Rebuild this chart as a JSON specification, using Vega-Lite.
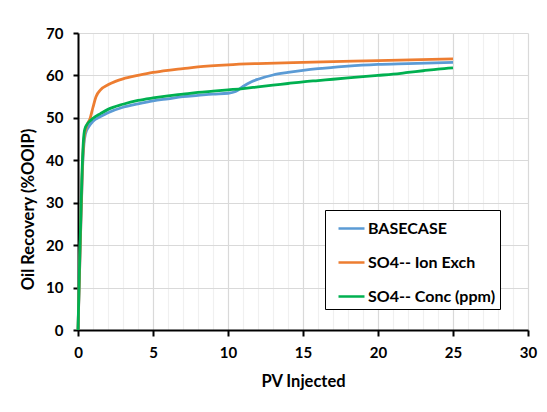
{
  "$schema": "https://vega.github.io/schema/vega-lite/v6.json",
  "autosize": "none",
  "width": 450,
  "height": 297,
  "padding": {"left": 78, "top": 33, "right": 19, "bottom": 82},
  "background": "white",
  "config": {
    "view": {"stroke": null},
    "font": "Lato"
  },
  "data": {
    "values": [
      {"s": "BASECASE", "pv": 0, "r": 0},
      {"s": "BASECASE", "pv": 0.15, "r": 20},
      {"s": "BASECASE", "pv": 0.3, "r": 38},
      {"s": "BASECASE", "pv": 0.4, "r": 44},
      {"s": "BASECASE", "pv": 0.5, "r": 46.3},
      {"s": "BASECASE", "pv": 0.7, "r": 47.8},
      {"s": "BASECASE", "pv": 1, "r": 49.2},
      {"s": "BASECASE", "pv": 1.5, "r": 50.3},
      {"s": "BASECASE", "pv": 2, "r": 51.2},
      {"s": "BASECASE", "pv": 3, "r": 52.5},
      {"s": "BASECASE", "pv": 4, "r": 53.3},
      {"s": "BASECASE", "pv": 5, "r": 54},
      {"s": "BASECASE", "pv": 6, "r": 54.5},
      {"s": "BASECASE", "pv": 7, "r": 55},
      {"s": "BASECASE", "pv": 8, "r": 55.3},
      {"s": "BASECASE", "pv": 9, "r": 55.6},
      {"s": "BASECASE", "pv": 10, "r": 55.8},
      {"s": "BASECASE", "pv": 10.5, "r": 56.2},
      {"s": "BASECASE", "pv": 11, "r": 57.4},
      {"s": "BASECASE", "pv": 11.5, "r": 58.4},
      {"s": "BASECASE", "pv": 12, "r": 59.1},
      {"s": "BASECASE", "pv": 13, "r": 60.1},
      {"s": "BASECASE", "pv": 14, "r": 60.7},
      {"s": "BASECASE", "pv": 15, "r": 61.2},
      {"s": "BASECASE", "pv": 16, "r": 61.6},
      {"s": "BASECASE", "pv": 17, "r": 61.9},
      {"s": "BASECASE", "pv": 18, "r": 62.2},
      {"s": "BASECASE", "pv": 20, "r": 62.6},
      {"s": "BASECASE", "pv": 22, "r": 62.8},
      {"s": "BASECASE", "pv": 25, "r": 63.1},
      {"s": "SO4-- Ion Exch", "pv": 0, "r": 0},
      {"s": "SO4-- Ion Exch", "pv": 0.15, "r": 20},
      {"s": "SO4-- Ion Exch", "pv": 0.3, "r": 39},
      {"s": "SO4-- Ion Exch", "pv": 0.4, "r": 45},
      {"s": "SO4-- Ion Exch", "pv": 0.55, "r": 47.8},
      {"s": "SO4-- Ion Exch", "pv": 0.8, "r": 49.8},
      {"s": "SO4-- Ion Exch", "pv": 1, "r": 52.5},
      {"s": "SO4-- Ion Exch", "pv": 1.2, "r": 55},
      {"s": "SO4-- Ion Exch", "pv": 1.5, "r": 56.6},
      {"s": "SO4-- Ion Exch", "pv": 2, "r": 57.8},
      {"s": "SO4-- Ion Exch", "pv": 2.5, "r": 58.6},
      {"s": "SO4-- Ion Exch", "pv": 3, "r": 59.2},
      {"s": "SO4-- Ion Exch", "pv": 4, "r": 60},
      {"s": "SO4-- Ion Exch", "pv": 5, "r": 60.7},
      {"s": "SO4-- Ion Exch", "pv": 6, "r": 61.2},
      {"s": "SO4-- Ion Exch", "pv": 7, "r": 61.6},
      {"s": "SO4-- Ion Exch", "pv": 8, "r": 62},
      {"s": "SO4-- Ion Exch", "pv": 10, "r": 62.5},
      {"s": "SO4-- Ion Exch", "pv": 12, "r": 62.8},
      {"s": "SO4-- Ion Exch", "pv": 15, "r": 63.1},
      {"s": "SO4-- Ion Exch", "pv": 20, "r": 63.5},
      {"s": "SO4-- Ion Exch", "pv": 25, "r": 63.9},
      {"s": "SO4-- Conc (ppm)", "pv": 0, "r": 0},
      {"s": "SO4-- Conc (ppm)", "pv": 0.1, "r": 15},
      {"s": "SO4-- Conc (ppm)", "pv": 0.25, "r": 35},
      {"s": "SO4-- Conc (ppm)", "pv": 0.35, "r": 44},
      {"s": "SO4-- Conc (ppm)", "pv": 0.45, "r": 47.3},
      {"s": "SO4-- Conc (ppm)", "pv": 0.7, "r": 48.9},
      {"s": "SO4-- Conc (ppm)", "pv": 1, "r": 49.9},
      {"s": "SO4-- Conc (ppm)", "pv": 1.5, "r": 51},
      {"s": "SO4-- Conc (ppm)", "pv": 2, "r": 52},
      {"s": "SO4-- Conc (ppm)", "pv": 3, "r": 53.2},
      {"s": "SO4-- Conc (ppm)", "pv": 4, "r": 54.1},
      {"s": "SO4-- Conc (ppm)", "pv": 5, "r": 54.7},
      {"s": "SO4-- Conc (ppm)", "pv": 6, "r": 55.2},
      {"s": "SO4-- Conc (ppm)", "pv": 7, "r": 55.6},
      {"s": "SO4-- Conc (ppm)", "pv": 8, "r": 56},
      {"s": "SO4-- Conc (ppm)", "pv": 9, "r": 56.3},
      {"s": "SO4-- Conc (ppm)", "pv": 10, "r": 56.6},
      {"s": "SO4-- Conc (ppm)", "pv": 11, "r": 56.9},
      {"s": "SO4-- Conc (ppm)", "pv": 12, "r": 57.3},
      {"s": "SO4-- Conc (ppm)", "pv": 13, "r": 57.7},
      {"s": "SO4-- Conc (ppm)", "pv": 14, "r": 58.1},
      {"s": "SO4-- Conc (ppm)", "pv": 15, "r": 58.5},
      {"s": "SO4-- Conc (ppm)", "pv": 16, "r": 58.8},
      {"s": "SO4-- Conc (ppm)", "pv": 17, "r": 59.1},
      {"s": "SO4-- Conc (ppm)", "pv": 18, "r": 59.4},
      {"s": "SO4-- Conc (ppm)", "pv": 19, "r": 59.7},
      {"s": "SO4-- Conc (ppm)", "pv": 20, "r": 60},
      {"s": "SO4-- Conc (ppm)", "pv": 21, "r": 60.3},
      {"s": "SO4-- Conc (ppm)", "pv": 22, "r": 60.7},
      {"s": "SO4-- Conc (ppm)", "pv": 23, "r": 61.1},
      {"s": "SO4-- Conc (ppm)", "pv": 24, "r": 61.5},
      {"s": "SO4-- Conc (ppm)", "pv": 25, "r": 61.8}
    ]
  },
  "mark": {"type": "line", "strokeWidth": 2.8, "interpolate": "monotone"},
  "encoding": {
    "x": {
      "field": "pv",
      "type": "quantitative",
      "scale": {"domain": [0, 30], "nice": false},
      "axis": {
        "title": "PV Injected",
        "values": [0,1,2,3,4,5,6,7,8,9,10,11,12,13,14,15,16,17,18,19,20,21,22,23,24,25,26,27,28,29,30],
        "labelExpr": "datum.value % 5 === 0 ? datum.label : ''",
        "gridColor": {"condition": {"test": "datum.value % 5 === 0", "value": "#d9d9d9"}, "value": "#f0f0f0"},
        "gridWidth": 1.2,
        "tickColor": {"condition": {"test": "datum.value % 5 === 0", "value": "#000000"}, "value": "transparent"},
        "tickSize": 6,
        "tickWidth": 2,
        "domainColor": "#000000",
        "domainWidth": 2,
        "labelFont": "Lato",
        "labelFontSize": 15,
        "labelFontWeight": "bold",
        "labelColor": "#000000",
        "labelPadding": 9,
        "labelFlush": false,
        "titleFont": "Lato",
        "titleFontSize": 16.5,
        "titleFontWeight": "bold",
        "titleColor": "#000000",
        "titlePadding": 13
      }
    },
    "y": {
      "field": "r",
      "type": "quantitative",
      "scale": {"domain": [0, 70], "nice": false},
      "axis": {
        "title": "Oil Recovery (%OOIP)",
        "values": [0, 10, 20, 30, 40, 50, 60, 70],
        "gridColor": "#d9d9d9",
        "gridWidth": 1.2,
        "tickColor": "#000000",
        "tickSize": 5,
        "tickWidth": 2,
        "domainColor": "#000000",
        "domainWidth": 2,
        "labelFont": "Lato",
        "labelFontSize": 15,
        "labelFontWeight": "bold",
        "labelColor": "#000000",
        "labelPadding": 10,
        "labelFlush": false,
        "titleFont": "Lato",
        "titleFontSize": 16.5,
        "titleFontWeight": "bold",
        "titleColor": "#000000",
        "titlePadding": 9,
        "titleY": 176
      }
    },
    "color": {
      "field": "s",
      "type": "nominal",
      "scale": {
        "domain": ["BASECASE", "SO4-- Ion Exch", "SO4-- Conc (ppm)"],
        "range": ["#5B9BD5", "#ED7D31", "#00B050"]
      },
      "legend": {
        "title": null,
        "orient": "none",
        "legendX": 247,
        "legendY": 177,
        "symbolType": "stroke",
        "symbolSize": 676,
        "symbolStrokeWidth": 2.5,
        "symbolOffset": 8,
        "labelFont": "Lato",
        "labelFontSize": 16,
        "labelFontWeight": "bold",
        "labelColor": "#000000",
        "labelOffset": 2,
        "rowPadding": 11,
        "padding": 4,
        "strokeColor": "#000000",
        "fillColor": "#ffffff",
        "cornerRadius": 0
      }
    }
  }
}
